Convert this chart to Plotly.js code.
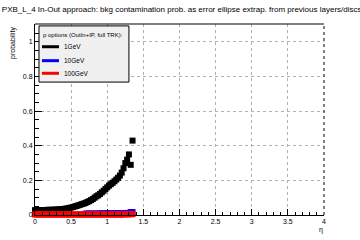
<!DOCTYPE html>
<html><head><meta charset="utf-8">
<script src="https://cdn.plot.ly/plotly-3.0.1.min.js"></script>
<style>html,body{margin:0;padding:0;background:#fff;}#c{width:360px;height:240px;}</style>
</head><body><div id="c"></div>
<script>
const titleText = "PXB_L_4 In-Out approach: bkg contamination prob. as error ellipse extrap. from previous layers/discs";
const legendHeader = "p options (OutIn+IP, full TRK):";
const seriesNames = ["1GeV", "10GeV", "100GeV"];
const seriesColors = ["#000000", "#0000ff", "#ff0000"];

const eta1 = [0,0.025,0.05,0.075,0.1,0.125,0.15,0.175,0.2,0.225,0.25,0.275,0.3,0.325,0.35,0.375,0.4,0.425,0.45,0.475,0.5,0.525,0.55,0.575,0.6,0.625,0.65,0.675,0.7,0.725,0.75,0.775,0.8,0.825,0.85,0.875,0.9,0.925,0.95,0.975,1.0,1.025,1.05,1.075,1.1,1.125,1.15,1.175,1.2,1.225,1.25,1.275,1.3,1.325,1.35];
const prob1GeV = [0.028,0.028,0.028,0.029,0.029,0.029,0.029,0.030,0.030,0.030,0.030,0.031,0.031,0.032,0.033,0.034,0.035,0.037,0.038,0.041,0.043,0.046,0.049,0.052,0.056,0.059,0.063,0.066,0.070,0.075,0.080,0.086,0.092,0.100,0.108,0.114,0.122,0.131,0.140,0.150,0.160,0.170,0.178,0.186,0.195,0.205,0.215,0.228,0.245,0.270,0.300,0.320,0.350,0.290,0.430];

const eta10 = [0.7,0.725,0.75,0.775,0.8,0.825,0.85,0.875,0.9,0.925,0.95,0.975,1.0,1.025,1.05,1.075,1.1,1.125,1.15,1.175,1.2,1.225,1.25,1.275,1.3,1.325,1.35];
const prob10GeV = [0.008,0.008,0.008,0.008,0.008,0.008,0.008,0.008,0.009,0.009,0.009,0.009,0.009,0.009,0.009,0.010,0.010,0.010,0.010,0.010,0.011,0.011,0.011,0.012,0.012,0.017,0.017];

const eta100 = eta1;
const prob100GeV = [0.003,0.003,0.003,0.003,0.003,0.003,0.003,0.003,0.003,0.003,0.003,0.003,0.003,0.003,0.003,0.003,0.003,0.003,0.003,0.003,0.003,0.003,0.003,0.003,0.003,0.003,0.003,0.003,0.003,0.003,0.003,0.003,0.003,0.003,0.003,0.003,0.003,0.003,0.003,0.003,0.003,0.003,0.003,0.003,0.003,0.003,0.003,0.003,0.003,0.003,0.004,0.004,0.004,0.005,0.005];

const xs = [eta1, eta10, eta100];
const ys = [prob1GeV, prob10GeV, prob100GeV];

const traces = xs.map((x, i) => ({
  type: 'scatter', mode: 'markers', x: x, y: ys[i], name: seriesNames[i],
  marker: {symbol: 'square', size: 6, color: seriesColors[i], line: {width: 0}},
  cliponaxis: false, showlegend: false, hoverinfo: 'skip'
}));

const F = "Liberation Sans, Arial, sans-serif";
const legY = [0.881, 0.808, 0.742];
const shapes = [
  {type:'line', xref:'paper', yref:'paper', x0:0, x1:1, y0:1, y1:1, line:{color:'black', width:1}},
  {type:'line', xref:'paper', yref:'paper', x0:1, x1:1, y0:0, y1:1, line:{color:'black', width:1, dash:'dot'}},
  {type:'rect', xref:'paper', yref:'paper', x0:0.0138, x1:0.325, y0:0.696, y1:0.990, fillcolor:'#f0f0f0', line:{color:'black', width:1}}
];
const annotations = [
  {xref:'paper', yref:'paper', x:0.021, y:0.942, xanchor:'left', yanchor:'middle', text:legendHeader, showarrow:false, font:{family:F, size:6, color:'black'}},
  {xref:'paper', yref:'paper', x:-0.076, y:0.995, xanchor:'center', yanchor:'top', textangle:-90, text:'probability', showarrow:false, font:{family:F, size:7, color:'black'}},
  {xref:'paper', yref:'paper', x:0.99, y:-0.0785, xanchor:'center', yanchor:'middle', text:'η', showarrow:false, font:{family:F, size:7, color:'black'}}
];
seriesNames.forEach((n, i) => {
  shapes.push({type:'line', xref:'paper', yref:'paper', x0:0.024, x1:0.083, y0:legY[i], y1:legY[i], line:{color:seriesColors[i], width:3}});
  annotations.push({xref:'paper', yref:'paper', x:0.093, y:legY[i], xanchor:'left', yanchor:'middle', text:n, showarrow:false, font:{family:F, size:6.5, color:'black'}});
});

const layout = {
  width: 360, height: 240,
  margin: {l:35, r:36, t:24, b:25, pad:0},
  paper_bgcolor: 'white', plot_bgcolor: 'white',
  font: {family: F, size: 7, color: 'black'},
  title: {text: titleText, x: 0.005, xanchor: 'left', y: 0.963, yanchor: 'middle', font: {family: F, size: 8, color: 'black'}},
  xaxis: {range:[0,4], tick0:0, dtick:0.5, ticks:'inside', ticklen:6, tickcolor:'black', showline:true, linecolor:'black', linewidth:1,
    showgrid:true, gridcolor:'#b0b0b0', griddash:'dot', gridwidth:1, zeroline:false, tickfont:{family:F, size:7},
    minor:{ticks:'inside', ticklen:3, dtick:0.1, tickcolor:'black', showgrid:false}},
  yaxis: {range:[0,1.104], tick0:0, dtick:0.2, ticks:'inside', ticklen:7, tickcolor:'black', showline:true, linecolor:'black', linewidth:1,
    showgrid:true, gridcolor:'#b0b0b0', griddash:'dot', gridwidth:1, zeroline:false, tickfont:{family:F, size:7},
    minor:{ticks:'inside', ticklen:4, dtick:0.05, tickcolor:'black', showgrid:false}},
  shapes: shapes, annotations: annotations, showlegend: false
};
Plotly.newPlot('c', traces, layout, {staticPlot:true, displayModeBar:false});
</script></body></html>
